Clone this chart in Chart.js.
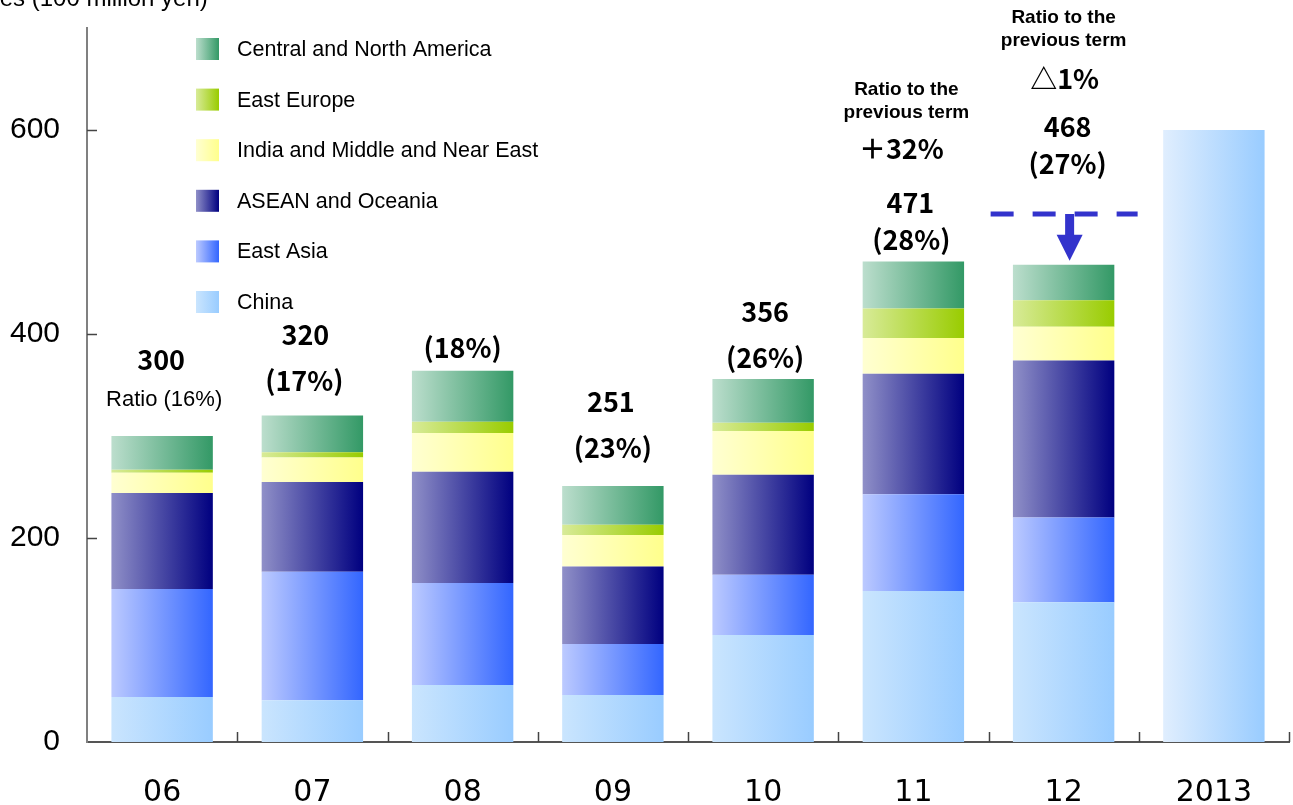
<!DOCTYPE html>
<html>
<head>
<meta charset="utf-8">
<title>Overseas sales by region</title>
<script src="https://cdn.jsdelivr.net/npm/chart.js@4.4.1/dist/chart.umd.min.js"></script>
<style>
  html, body { margin: 0; padding: 0; background: #fff; }
  #wrap { width: 1293px; height: 805px; position: relative; }
</style>
</head>
<body>
<div id="wrap"><canvas id="salesChart"></canvas></div>
<script>
// fiscal years on the x axis
const years = ['06', '07', '08', '09', '10', '11', '12', '2013'];

// sales per region, 100 million yen
const china      = [44, 41, 56, 46, 105, 148, 137, null];
const eastAsia   = [106, 126, 100, 50, 59, 95, 83, null];
const asean      = [94, 88, 109, 76, 98, 118, 154, null];
const india      = [20, 24, 38, 31, 43, 35, 33, null];
const eastEurope = [3, 5, 11, 10, 8, 29, 26, null];
const americas   = [33, 36, 50, 38, 43, 46, 35, null];
const plan       = [null, null, null, null, null, null, null, 600];

// texts printed above the bars
const totalText  = ['300', '320', '', '251', '356', '471', '468', ''];
const shareText  = ['Ratio (16%)', '(17%)', '(18%)', '(23%)', '(26%)', '(28%)', '(27%)', ''];
const changeText = ['', '', '', '', '', '＋32%', '△1%', ''];

const yTicks = [0, 200, 400, 600];

const BAR_PCT = 0.675;
const NUM_FONT = 'bold 27px "Noto Sans CJK JP", "Liberation Sans", sans-serif';

// horizontal light-to-dark fill across each bar
function barGradient(from, to) {
    return function (c) {
        const chart = c.chart;
        const xs = chart.scales.x;
        if (!chart.chartArea || !xs || c.dataIndex === undefined) return to;
        const cx = xs.getPixelForValue(c.dataIndex);
        const half = (xs.width / years.length) * BAR_PCT / 2;
        const g = chart.ctx.createLinearGradient(cx - half, 0, cx + half, 0);
        g.addColorStop(0, from);
        g.addColorStop(1, to);
        return g;
    };
}

const series = [
    { label: 'China', data: china, from: '#cae5fe', to: '#99ccff' },
    { label: 'East Asia', data: eastAsia, from: '#bccaff', to: '#3366ff' },
    { label: 'ASEAN and Oceania', data: asean, from: '#9090c8', to: '#000080' },
    { label: 'India and Middle and Near East', data: india, from: '#ffffd2', to: '#ffff8c' },
    { label: 'East Europe', data: eastEurope, from: '#d8eb98', to: '#99cc00' },
    { label: 'Central and North America', data: americas, from: '#bcdecd', to: '#339966' }
];

const datasets = series.map(s => ({
    label: s.label,
    data: s.data,
    backgroundColor: barGradient(s.from, s.to),
    borderWidth: 0
}));
datasets.push({
    label: 'Plan',
    data: plan,
    backgroundColor: barGradient('#e0eefe', '#99ccff'),
    borderWidth: 0
});

// legend, tick marks, value labels and the drop arrow
const decorations = {
    id: 'decorations',
    afterDatasetsDraw(chart) {
        const ctx = chart.ctx;
        const area = chart.chartArea;
        const xs = chart.scales.x;
        const ys = chart.scales.y;
        const catW = xs.width / years.length;

        ctx.save();

        // inner tick marks
        ctx.strokeStyle = '#444';
        ctx.lineWidth = 1.5;
        ctx.beginPath();
        yTicks.forEach(v => {
            if (v === 0) return;
            const y = Math.round(ys.getPixelForValue(v)) + 0.5;
            ctx.moveTo(area.left, y);
            ctx.lineTo(area.left + 10, y);
        });
        for (let i = 1; i <= years.length; i++) {
            const x = Math.round(area.left + i * catW) + 0.5;
            ctx.moveTo(x, area.bottom);
            ctx.lineTo(x, area.bottom - 10);
        }
        ctx.stroke();

        // axis caption, partly off the left edge
        ctx.fillStyle = '#000';
        ctx.font = '24px "Liberation Sans", Arial, sans-serif';
        ctx.textAlign = 'left';
        ctx.textBaseline = 'alphabetic';
        ctx.fillText('Sales (100 million yen)', -35, 6);

        // legend, top series first
        ctx.font = '21.5px "Liberation Sans", Arial, sans-serif';
        ctx.textBaseline = 'middle';
        series.slice().reverse().forEach((s, i) => {
            const cy = 49 + i * 50.6;
            const g = ctx.createLinearGradient(196, 0, 219, 0);
            g.addColorStop(0, s.from);
            g.addColorStop(1, s.to);
            ctx.fillStyle = g;
            ctx.fillRect(196, cy - 11, 23, 22);
            ctx.fillStyle = '#000';
            ctx.fillText(s.label, 237, cy + 1);
        });

        ctx.textAlign = 'center';
        const cx = i => xs.getPixelForValue(i);

        // FY06
        ctx.font = NUM_FONT;
        ctx.fillText(totalText[0], cx(0) - 1, 360);
        ctx.font = '22px "Liberation Sans", Arial, sans-serif';
        ctx.fillText(shareText[0], cx(0) + 2, 400);

        // FY07 - FY10
        ctx.font = NUM_FONT;
        ctx.fillText(totalText[1], cx(1) - 7, 335);
        ctx.fillText(shareText[1], cx(1) - 8, 381);
        ctx.fillText(shareText[2], cx(2), 348);
        ctx.fillText(totalText[3], cx(3) - 2, 402);
        ctx.fillText(shareText[3], cx(3), 448);
        ctx.fillText(totalText[4], cx(4) + 2, 312);
        ctx.fillText(shareText[4], cx(4) + 2, 358);

        // FY11
        ctx.font = 'bold 19px "Liberation Sans", Arial, sans-serif';
        ctx.fillText('Ratio to the', cx(5) - 7, 90);
        ctx.fillText('previous term', cx(5) - 7, 113);
        ctx.font = NUM_FONT;
        ctx.fillText(changeText[5], cx(5) - 12, 149);
        ctx.fillText(totalText[5], cx(5) - 3, 203);
        ctx.fillText(shareText[5], cx(5) - 2, 240);

        // FY12
        ctx.font = 'bold 19px "Liberation Sans", Arial, sans-serif';
        ctx.fillText('Ratio to the', cx(6), 18);
        ctx.fillText('previous term', cx(6), 41);
        ctx.font = NUM_FONT;
        ctx.fillText(changeText[6], cx(6) + 1, 79);
        ctx.fillText(totalText[6], cx(6) + 4, 127);
        ctx.fillText(shareText[6], cx(6) + 4, 164);

        // previous-term level and the drop arrow onto FY12
        const ax = cx(6) + 6;
        const lineY = 214;
        ctx.strokeStyle = '#3333cc';
        ctx.fillStyle = '#3333cc';
        ctx.lineWidth = 5;
        ctx.setLineDash([23, 19]);
        ctx.beginPath();
        ctx.moveTo(cx(6) - 73, lineY);
        ctx.lineTo(cx(6) + 74, lineY);
        ctx.stroke();
        ctx.setLineDash([]);
        const tip = ys.getPixelForValue(Number(totalText[6])) - 4;
        const headTop = tip - 26;
        ctx.fillRect(ax - 4.5, lineY, 9, headTop - lineY + 1);
        ctx.beginPath();
        ctx.moveTo(ax - 13, headTop);
        ctx.lineTo(ax + 13, headTop);
        ctx.lineTo(ax, tip);
        ctx.closePath();
        ctx.fill();

        ctx.restore();
    }
};

new Chart(document.getElementById('salesChart'), {
    type: 'bar',
    data: {
        labels: years,
        datasets: datasets
    },
    options: {
        responsive: true,
        maintainAspectRatio: false,
        animation: false,
        devicePixelRatio: 1,
        categoryPercentage: 1,
        barPercentage: BAR_PCT,
        layout: {
            padding: { top: 0, right: 4, left: 0, bottom: 0 }
        },
        plugins: {
            legend: { display: false },
            tooltip: { enabled: false }
        },
        scales: {
            x: {
                stacked: true,
                grid: { display: false, drawTicks: false },
                border: { display: true, color: '#555', width: 2 },
                ticks: {
                    color: '#000',
                    padding: 33,
                    font: { family: '"DejaVu Sans", sans-serif', size: 30 }
                },
                afterFit(scale) { scale.height = 63; }
            },
            y: {
                stacked: true,
                min: 0,
                max: 700,
                grid: { display: false, drawTicks: false },
                border: { display: true, color: '#808080', width: 2 },
                ticks: {
                    stepSize: 200,
                    color: '#000',
                    padding: 27,
                    font: { family: '"Liberation Sans", Arial, sans-serif', size: 30 }
                },
                afterBuildTicks(scale) {
                    scale.ticks = yTicks.map(v => ({ value: v }));
                },
                afterFit(scale) {
                    scale.width = 87;
                    scale.paddingTop = 28;
                    scale.paddingBottom = 0;
                }
            }
        }
    },
    plugins: [decorations]
});
</script>
</body>
</html>
